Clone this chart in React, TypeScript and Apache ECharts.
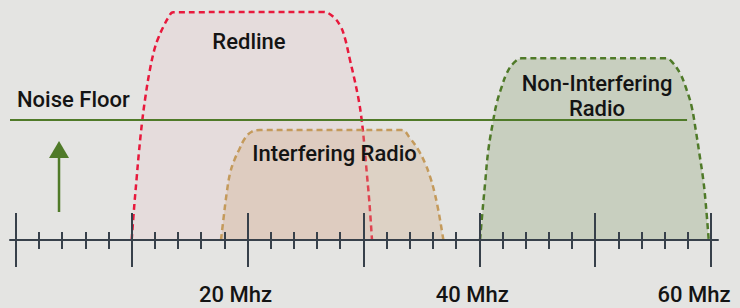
import React, { useEffect, useRef } from "react";
import * as echarts from "echarts";

// Frequency axis (MHz) and level axis (relative units)
const freqMin = -0.5;
const freqMax = 60.6;
const levelMin = 0;
const levelMax = 100;

const majorTicks = [0, 10, 20, 30, 40, 50, 60];
const minorTicks = [2, 4, 6, 8, 12, 14, 16, 18, 22, 24, 26, 28, 32, 34, 36, 38, 42, 44, 46, 48, 52, 54, 56, 58];
const tickLabels = [20, 40, 60];

// Signal envelopes: [MHz, level]
const redline: [number, number][] = [
  [10.0, 0], [10.23, 14.6], [10.43, 25.8], [10.63, 36.7], [10.92, 50], [11.21, 60.4],
  [11.52, 69.6], [11.95, 79.2], [12.3, 84.2], [12.73, 88.8], [13.16, 92.6], [13.59, 94.9],
  [26.54, 95], [27.4, 93], [28.04, 88.9], [28.41, 84], [28.84, 75], [29.27, 66],
  [29.62, 57.6], [29.85, 50], [30.05, 41], [30.28, 28.5], [30.51, 16], [30.74, 0],
];
const interfering: [number, number][] = [
  [17.71, 0], [17.91, 8.3], [18.2, 19.5], [18.49, 27.8], [18.86, 33.3], [19.26, 37.5],
  [19.78, 42.4], [20.36, 45.1], [21.08, 45.8], [33.3, 45.8], [34.02, 42.4], [34.74, 37.5],
  [35.32, 32], [35.75, 26.4], [36.12, 20.1], [36.46, 12.5], [36.76, 4.2], [36.9, 0],
];
const nonInterfering: [number, number][] = [
  [40.06, 0], [40.26, 11.1], [40.5, 23.6], [40.78, 37.5], [41.21, 50], [41.5, 57],
  [41.94, 63.9], [42.37, 69.5], [42.94, 73.6], [43.66, 75.7], [56.18, 75.7], [56.61, 74.3],
  [57.32, 69.5], [57.9, 62.5], [58.33, 55.5], [58.68, 45.8], [58.99, 36.1], [59.33, 25],
  [59.54, 15.3], [59.8, 0],
];
const noiseFloorLevel = 50;
const noiseFloorRange = [-0.5, 57.93];
const arrowFreq = 3.73;
const arrowLevels = [11.7, 37.7];

const GREEN = "#4f7a28";
const AXIS = "#37404a";
const FONT = "Roboto, 'Noto Sans', sans-serif";

export default function App() {
  const ref = useRef<HTMLDivElement>(null);
  useEffect(() => {
    if (!ref.current) return;
    const chart = echarts.init(ref.current, undefined, { renderer: "svg" });
    const textStyle = (text: string, x: number, y: number, align = "center") => ({
      type: "text",
      x,
      y,
      z: 100,
      style: {
        text,
        fill: "#141414",
        font: `500 22px ${FONT}`,
        align,
        verticalAlign: "middle",
        textAlign: align,
        textVerticalAlign: "middle",
        lineHeight: 25,
      },
    });
    const areaSeries = (name: string, data: [number, number][], line: string, fill: string, z: number) => ({
      name,
      type: "line",
      data,
      smooth: 0.4,
      showSymbol: false,
      z,
      lineStyle: { color: line, width: 2.5, type: [6, 4] },
      areaStyle: { color: fill, opacity: 1 },
    });
    const labelRich = {
      color: "#141414",
      fontFamily: FONT,
      fontSize: 22,
      fontWeight: 500,
    };
    chart.setOption({
      animation: false,
      backgroundColor: "#e4e4e2",
      grid: { left: 10, right: 22, top: 0, bottom: 68 },
      xAxis: [
        {
          type: "value",
          position: "bottom",
          min: freqMin,
          max: freqMax,
          z: 10,
          axisLine: { show: true, lineStyle: { color: AXIS, width: 2 } },
          axisTick: { show: false },
          splitLine: { show: false },
          axisLabel: {
            show: true,
            customValues: tickLabels,
            formatter: (v: number) => `{m${v}|${v} Mhz}`,
            color: "#141414",
            fontFamily: FONT,
            fontSize: 22,
            fontWeight: 500,
            margin: 43,
            rich: {
              m20: { ...labelRich, padding: [0, 24, 0, 0] },
              m40: { ...labelRich, padding: [0, 14, 0, 0] },
              m60: { ...labelRich, padding: [0, 34, 0, 0] },
            },
          },
        },
        {
          type: "value",
          position: "bottom",
          min: freqMin,
          max: freqMax,
          offset: 27,
          z: 10,
          axisLine: { show: false },
          axisTick: { show: true, inside: true, length: 54, customValues: majorTicks, lineStyle: { color: AXIS, width: 2 } },
          axisLabel: { show: false },
          splitLine: { show: false },
        },
        {
          type: "value",
          position: "bottom",
          min: freqMin,
          max: freqMax,
          offset: 9,
          z: 10,
          axisLine: { show: false },
          axisTick: { show: true, inside: true, length: 17, customValues: minorTicks, lineStyle: { color: AXIS, width: 2 } },
          axisLabel: { show: false },
          splitLine: { show: false },
        },
      ],
      yAxis: { type: "value", min: levelMin, max: levelMax, show: false },
      series: [
        areaSeries("Redline", redline, "#e8193c", "#e5dcdc", 2),
        areaSeries("Interfering Radio", interfering, "#c49a5b", "rgba(205,170,130,0.3)", 3),
        areaSeries("Non-Interfering Radio", nonInterfering, GREEN, "#c8cfbf", 4),
        {
          name: "Noise Floor",
          type: "line",
          z: 6,
          showSymbol: false,
          data: noiseFloorRange.map((f) => [f, noiseFloorLevel]),
          lineStyle: { color: GREEN, width: 2 },
        },
        {
          name: "arrow",
          type: "line",
          z: 6,
          data: [
            { value: [arrowFreq, arrowLevels[0]], symbol: "none" },
            { value: [arrowFreq, arrowLevels[1]], symbol: "triangle", symbolSize: [20, 17] },
          ],
          showSymbol: true,
          lineStyle: { color: GREEN, width: 2.5 },
          itemStyle: { color: GREEN },
        },
      ],
      graphic: [
        textStyle("Noise Floor", 17, 99, "left"),
        textStyle("Redline", 249, 41),
        textStyle("Interfering Radio", 334.5, 153),
        textStyle("Non-Interfering\nRadio", 597, 95.5),
      ],
    });
    return () => chart.dispose();
  }, []);
  return <div ref={ref} style={{ position: "fixed", left: 0, top: 0, width: 740, height: 308 }} />;
}
